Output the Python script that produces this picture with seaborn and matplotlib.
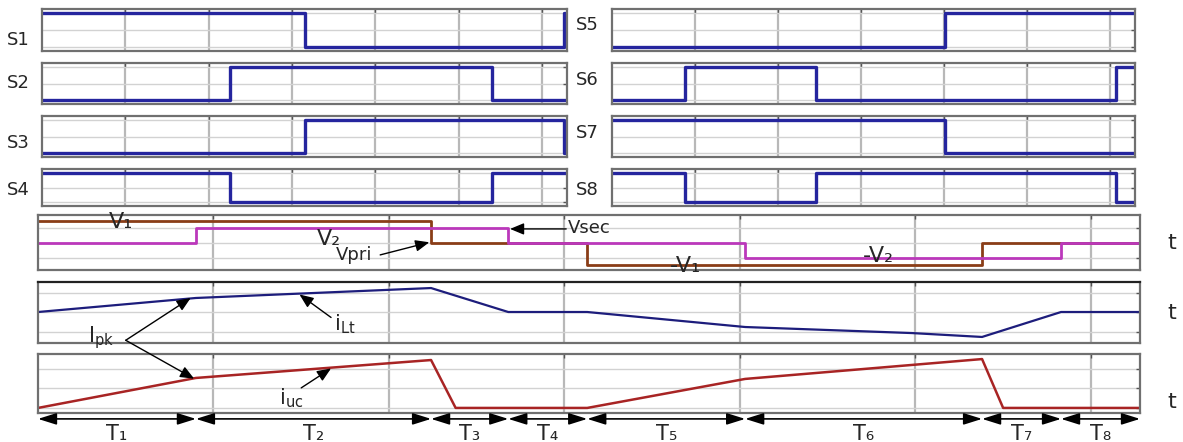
import matplotlib
matplotlib.use("Agg")
import matplotlib.pyplot as plt
import seaborn as sns

# ---- switching signals, time in grid divisions ----
left_labels = ["S1", "S2", "S3", "S4"]
right_labels = ["S5", "S6", "S7", "S8"]

s1_t = [0, 3.16, 6.27, 6.3]
s1_v = [1, 0, 1, 1]
s2_t = [0, 2.26, 5.40, 6.3]
s2_v = [0, 1, 0, 0]
s3_t = [0, 3.16, 6.27, 6.3]
s3_v = [0, 1, 0, 0]
s4_t = [0, 2.26, 5.40, 6.3]
s4_v = [1, 0, 1, 1]
s5_t = [0, 4.01, 6.3]
s5_v = [0, 1, 1]
s6_t = [0, 0.88, 2.46, 6.07, 6.3]
s6_v = [0, 1, 0, 1, 1]
s7_t = [0, 4.01, 6.3]
s7_v = [1, 0, 0]
s8_t = [0, 0.88, 2.46, 6.07, 6.3]
s8_v = [1, 0, 1, 0, 0]

# ---- transformer voltages and currents ----
t_bounds = [0, 0.90, 2.24, 2.68, 3.13, 4.03, 5.38, 5.83, 6.28]
t_names = ["T₁", "T₂", "T₃", "T₄", "T₅", "T₆", "T₇", "T₈"]
vpri_levels = [1.5, 1.5, 0, 0, -1.5, -1.5, 0, 0, 0]
vsec_levels = [0, 1.0, 1.0, 0, 0, -1.0, -1.0, 0, 0]

ilt_t = [0, 0.90, 2.24, 2.68, 3.13, 4.03, 4.98, 5.38, 5.83, 6.28]
ilt_v = [0, 0.72, 1.23, 0, 0, -0.77, -1.08, -1.28, 0, 0]
iuc_t = [0, 0.90, 2.24, 2.38, 3.13, 4.03, 5.38, 5.50, 6.28]
iuc_v = [0, 1.54, 2.46, 0, 0, 1.49, 2.51, 0, 0]

sns.set_theme(style="white")
plt.rcParams["font.family"] = ["DejaVu Sans"]

W, H = 1183, 442
fig = plt.figure(figsize=(W / 100, H / 100), dpi=100)

SW_BLUE = "#25259e"
VPRI = "#8a3d17"
VSEC = "#bb38bb"
ILT = "#1d1d7c"
IUC = "#a82424"


def px_axes(x0, y0, x1, y1):
    return fig.add_axes([x0 / W, 1 - y1 / H, (x1 - x0) / W, (y1 - y0) / H])


def style_panel(ax, xlim, ylim, xticks, yticks):
    ax.set_xlim(*xlim)
    ax.set_ylim(*ylim)
    ax.set_xticks(xticks)
    ax.set_yticks(yticks)
    ax.set_axisbelow(True)
    ax.grid(True, axis="x", color="#b8b8b8", lw=1.6)
    ax.grid(True, axis="y", color="#d2d2d2", lw=1.0)
    ax.tick_params(direction="in", length=3, width=1, colors="#555555",
                   top=True, right=True, labelbottom=False, labelleft=False)
    for sp in ax.spines.values():
        sp.set_color("#707070")
        sp.set_linewidth(1.6)
    ax.set_xlabel("")
    ax.set_ylabel("")


# switch panels
rows = [(9, 51), (63, 104), (116, 157), (169, 206)]
left_sig = [(s1_t, s1_v), (s2_t, s2_v), (s3_t, s3_v), (s4_t, s4_v)]
right_sig = [(s5_t, s5_v), (s6_t, s6_v), (s7_t, s7_v), (s8_t, s8_v)]
left_lab_y = [40, 83, 143, 190]
right_lab_y = [25, 80, 133, 190]

for i, (y0, y1) in enumerate(rows):
    for (x0, x1), sig in [((42, 567), left_sig[i]), ((612, 1135), right_sig[i])]:
        ax = px_axes(x0, y0, x1, y1)
        sns.lineplot(x=sig[0], y=sig[1], ax=ax, drawstyle="steps-post",
                     estimator=None, sort=False, color=SW_BLUE, linewidth=2.4)
        style_panel(ax, (0, 6.3), (-0.12, 1.12), [1, 2, 3, 4, 5, 6], [0, 0.5, 1])
    fig.text(7 / W, 1 - left_lab_y[i] / H, left_labels[i], fontsize=13,
             ha="left", va="center")
    fig.text(576 / W, 1 - right_lab_y[i] / H, right_labels[i], fontsize=13,
             ha="left", va="center")

grid_t = [1, 2, 3, 4, 5, 6]

# voltage panel
ax_v = px_axes(38, 215, 1140, 270)
sns.lineplot(x=t_bounds, y=vpri_levels[:len(t_bounds)], ax=ax_v, drawstyle="steps-post",
             estimator=None, sort=False, color=VPRI, linewidth=2.0)
sns.lineplot(x=t_bounds, y=vsec_levels[:len(t_bounds)], ax=ax_v, drawstyle="steps-post",
             estimator=None, sort=False, color=VSEC, linewidth=2.0)
style_panel(ax_v, (0, 6.28), (-1.86, 1.93), grid_t, [-1, 0, 1])

ax_v.text(0.47, 1.42, "V₁", fontsize=16, ha="center", va="center", zorder=5)
ax_v.text(1.66, 0.28, "V₂", fontsize=16, ha="center", va="center", zorder=5)
ax_v.text(1.80, -0.80, "Vpri", fontsize=13, ha="center", va="center")
ax_v.annotate("", xy=(2.23, 0.05), xytext=(1.95, -0.82),
              arrowprops=dict(arrowstyle="-|>,head_length=0.6,head_width=0.25",
                              color="black", lw=1.0, mutation_scale=14,
                              shrinkA=0, shrinkB=0))
ax_v.text(3.02, 1.05, "Vsec", fontsize=13, ha="left", va="center")
ax_v.annotate("", xy=(2.69, 0.97), xytext=(3.01, 0.97),
              arrowprops=dict(arrowstyle="-|>,head_length=0.6,head_width=0.25",
                              color="black", lw=1.0, mutation_scale=14,
                              shrinkA=0, shrinkB=0))
ax_v.text(3.69, -1.55, "-V₁", fontsize=16, ha="center", va="center", zorder=5)
ax_v.text(4.79, -0.88, "-V₂", fontsize=16, ha="center", va="center", zorder=5)

# inductor current panel
ax_i = px_axes(38, 282, 1140, 343)
sns.lineplot(x=ilt_t, y=ilt_v, ax=ax_i, estimator=None, sort=False,
             color=ILT, linewidth=1.6)
style_panel(ax_i, (0, 6.28), (-1.59, 1.54), grid_t, [-1, 0, 1])
ax_i.spines["top"].set_color("#222222")

# ultracapacitor current panel
ax_u = px_axes(38, 354, 1140, 413)
sns.lineplot(x=iuc_t, y=iuc_v, ax=ax_u, estimator=None, sort=False,
             color=IUC, linewidth=1.8)
style_panel(ax_u, (0, 6.28), (-0.26, 2.77), grid_t, [0, 1, 2])

arrow_kw = dict(arrowstyle="-|>,head_length=0.6,head_width=0.25",
                color="black", lw=1.0, mutation_scale=14, shrinkA=0, shrinkB=0)

ax_i.text(0.36, -1.32, r"I$_{\mathregular{pk}}$", fontsize=15, ha="center", va="center")
ax_i.annotate("", xy=(0.87, 0.72), xytext=(0.50, -1.45), arrowprops=arrow_kw)
ax_u.annotate("", xy=(0.89, 1.50), xycoords=ax_u.transData,
              xytext=(0.50, -1.45), textcoords=ax_i.transData,
              arrowprops=arrow_kw, annotation_clip=False)

ax_i.text(1.75, -0.60, r"i$_{\mathregular{Lt}}$", fontsize=15, ha="center", va="center")
ax_i.annotate("", xy=(1.49, 0.90), xytext=(1.67, -0.28), arrowprops=arrow_kw)

ax_u.text(1.44, 0.50, r"i$_{\mathregular{uc}}$", fontsize=15, ha="center", va="center")
ax_u.annotate("", xy=(1.67, 2.03), xytext=(1.50, 1.03), arrowprops=arrow_kw)

# interval arrows under the last panel
xt = ax_u.get_xaxis_transform()
for k, name in enumerate(t_names):
    a, b = t_bounds[k], t_bounds[k + 1]
    ax_u.annotate("", xy=(b, -0.10), xytext=(a, -0.10), xycoords=xt,
                  arrowprops=dict(arrowstyle="<|-|>,head_length=0.7,head_width=0.22",
                                  color="black", lw=1.2, mutation_scale=16,
                                  shrinkA=0, shrinkB=0),
                  annotation_clip=False)
    ax_u.text((a + b) / 2, -0.36, name, transform=xt, fontsize=15,
              ha="center", va="center")

# time axis markers
for y in [243, 313, 402]:
    fig.text(1172 / W, 1 - y / H, "t", fontsize=16, ha="center", va="center")

fig.savefig("out.png", dpi=100)
